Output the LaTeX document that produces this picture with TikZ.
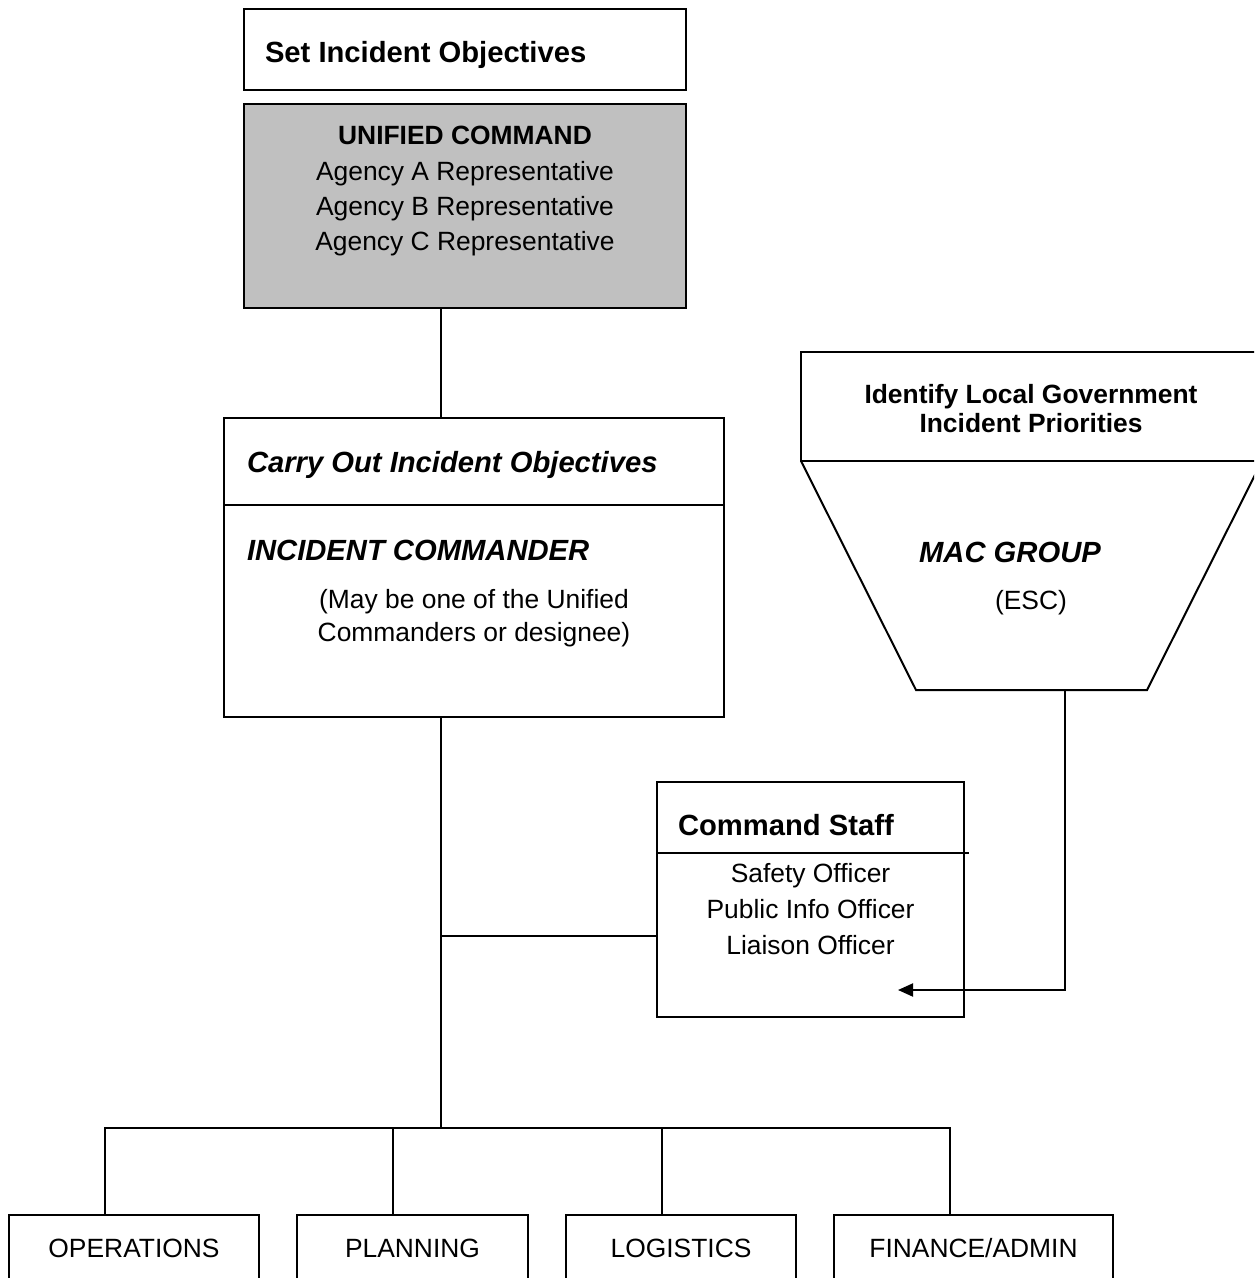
\documentclass[tikz,border=0pt]{standalone}
\usepackage{fontspec}
\setmainfont{Liberation Sans}
\usetikzlibrary{arrows.meta}
\definecolor{ucgray}{HTML}{C0C0C0}
\begin{document}
\begin{tikzpicture}[x=1pt,y=-1pt,
  line/.style={draw=black, line width=2pt},
  box/.style={line, rectangle, inner sep=0pt, outer sep=0pt, anchor=north west},
  txt/.style={inner sep=0pt, outer sep=0pt, font=\fontsize{26.4}{30}\selectfont},
  txtb/.style={inner sep=0pt, outer sep=0pt, font=\fontsize{26.4}{30}\selectfont\bfseries},
  head/.style={inner sep=0pt, outer sep=0pt, font=\fontsize{29.2}{34}\selectfont\bfseries},
  headi/.style={inner sep=0pt, outer sep=0pt, font=\fontsize{29.2}{34}\selectfont\bfseries\itshape},
  link/.style={line, line cap=rect},
  arrowlink/.style={line, -{Triangle[length=15pt,width=13pt]}},
]
\useasboundingbox (0,0) rectangle (1254,1278);
\clip (0,0) rectangle (1254,1278);

% --- guide coordinates for the connectors
\coordinate (spine) at (441,0);
\coordinate (branch) at (441,936);
\coordinate (barL) at (105,1128);
\coordinate (barP) at (393,1128);
\coordinate (barG) at (662,1128);
\coordinate (barF) at (950,1128);
\coordinate (macout) at (1065,690);
\coordinate (arrtip) at (898,990);

% --- Set Incident Objectives
\node[box, minimum width=442pt, minimum height=81pt] (setobj) at (244,9) {};
\node[head, anchor=base west] (setobjT) at (265,62) {Set Incident Objectives};

% --- Unified Command
\node[box, fill=ucgray, minimum width=442pt, minimum height=204pt] (unified) at (244,104) {};
\node[txtb, anchor=base] (ucT) at (465,144) {UNIFIED COMMAND};
\node[txt, anchor=base] (ucA) at (465,180) {Agency A Representative};
\node[txt, anchor=base] (ucB) at (465,215) {Agency B Representative};
\node[txt, anchor=base] (ucC) at (465,250) {Agency C Representative};

% --- Incident Commander
\node[box, minimum width=500pt, minimum height=299pt] (carry) at (224,418) {};
\draw[line] (carry.west |- 0,505) -- (carry.east |- 0,505);
\node[headi, anchor=base west] (carryT) at (247,472) {Carry Out Incident Objectives};
\node[headi, anchor=base west] (icT) at (247,560) {INCIDENT COMMANDER};
\node[txt, anchor=base] (icN1) at (474,608) {(May be one of the Unified};
\node[txt, anchor=base] (icN2) at (474,641) {Commanders or designee)};

% --- MAC Group
\node[box, minimum width=461pt, minimum height=109pt] (mactop) at (801,352) {};
\coordinate (macbl) at (916,690);
\coordinate (macbr) at (1147,690);
\draw[line, line join=miter] (mactop.south west) -- (macbl) -- (macbr) -- (mactop.south east);
\node[txtb, anchor=base] (macT1) at (1031,403) {Identify Local Government};
\node[txtb, anchor=base] (macT2) at (1031,432) {Incident Priorities};
\node[headi, anchor=base] (macT) at (1010,562) {MAC GROUP};
\node[txt, anchor=base] (macE) at (1031,609) {(ESC)};

% --- Command Staff
\node[box, minimum width=307pt, minimum height=235pt] (staff) at (657,782) {};
\draw[line] (staff.west |- 0,853) -- (969,853);
\node[head, anchor=base west] (staffT) at (678,835) {Command Staff};
\node[txt, anchor=base] (staff1) at (810.5,882) {Safety Officer};
\node[txt, anchor=base] (staff2) at (810.5,918) {Public Info Officer};
\node[txt, anchor=base] (staff3) at (810.5,954) {Liaison Officer};

% --- General Staff sections
\node[box, minimum width=250pt, minimum height=100pt] (ops) at (9,1215) {};
\node[box, minimum width=231pt, minimum height=100pt] (plan) at (297,1215) {};
\node[box, minimum width=230pt, minimum height=100pt] (logi) at (566,1215) {};
\node[box, minimum width=279pt, minimum height=100pt] (fin) at (834,1215) {};
\node[txt, anchor=base] (opsT) at (ops.north |- 0,1257) {OPERATIONS};
\node[txt, anchor=base] (planT) at (plan.north |- 0,1257) {PLANNING};
\node[txt, anchor=base] (logiT) at (logi.north |- 0,1257) {LOGISTICS};
\node[txt, anchor=base] (finT) at (fin.north |- 0,1257) {FINANCE/ADMIN};

% --- connectors
\draw[line] (unified.south -| spine) -- (carry.north -| spine);
\draw[line] (carry.south -| spine) -- (barL -| spine);
\draw[line] (branch) -- (branch -| staff.west);
\draw[link] (barL) -- (barF);
\draw[line] (barL) -- (barL |- ops.north);
\draw[line] (barP) -- (barP |- plan.north);
\draw[line] (barG) -- (barG |- logi.north);
\draw[line] (barF) -- (barF |- fin.north);
\draw[arrowlink] (macout) |- (arrtip);
\end{tikzpicture}
\end{document}
